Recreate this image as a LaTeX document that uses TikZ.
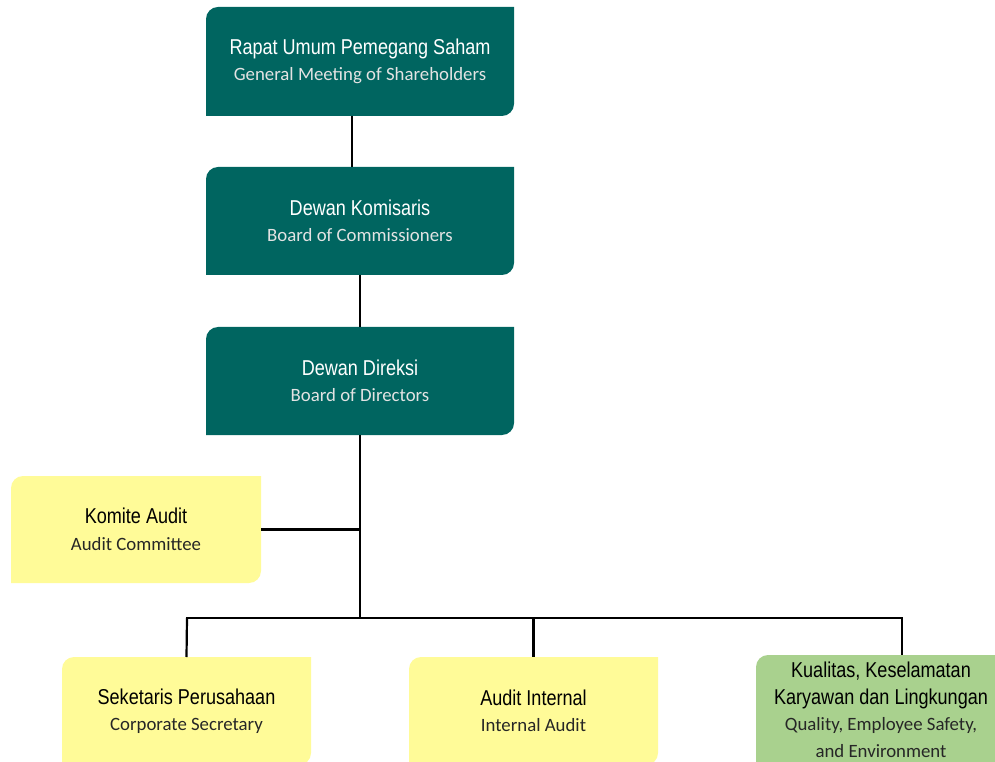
\documentclass[tikz,border=0pt]{standalone}
\usepackage{fontspec}
\usetikzlibrary{backgrounds}
\newfontfamily\mainf{Liberation Sans}[FakeStretch=0.84]
\newfontfamily\subf{Carlito}
\definecolor{teal1}{HTML}{006560}
\definecolor{yell1}{HTML}{FFFB98}
\definecolor{green1}{HTML}{A9D18E}
\definecolor{subgray}{HTML}{E3E3E3}
\definecolor{subdark}{HTML}{262626}
\newcommand\diagfill[2]{\fill[#2] (#1.south west) -- ([yshift=-12pt]#1.north west) arc[start angle=180,end angle=90,radius=12pt] -- (#1.north east) -- ([yshift=12pt]#1.south east) arc[start angle=0,end angle=-90,radius=12pt] -- cycle;}
\newcommand\mt[1]{{\mainf\fontsize{21.5}{26.5}\selectfont #1}}
\newcommand\st[1]{{\subf\fontsize{18.8}{26.5}\selectfont #1}}
\begin{document}
\begin{tikzpicture}[x=1pt,y=1pt,
  orgbox/.style={rectangle,inner sep=0pt,outer sep=0pt,align=center,minimum width=308pt,minimum height=108pt,font=\fontsize{20}{26.5}\selectfont},
  lowbox/.style={orgbox,minimum width=249pt},
  conn/.style={line width=2.2pt,black}]
\useasboundingbox (0,0) rectangle (995,761);
\node[orgbox,minimum height=109pt,text=white] (rups) at (360,699.5) {\mt{Rapat Umum Pemegang Saham}\\\st{\color{subgray}General Meeting of Shareholders}};
\node[orgbox,text=white] (dk) at (360,540) {\mt{Dewan Komisaris}\\\st{\color{subgray}Board of Commissioners}};
\node[orgbox,text=white] (dd) at (360,380) {\mt{Dewan Direksi}\\\st{\color{subgray}Board of Directors}};
\node[lowbox,minimum width=250pt,minimum height=107pt] (ka) at (136,231.5) {\mt{Komite Audit}\\\st{\color{subdark}Audit Committee}};
\node[lowbox] (sk) at (186.5,50) {\mt{Seketaris Perusahaan}\\\st{\color{subdark}Corporate Secretary}};
\node[lowbox] (ai) at (533.5,50) {\mt{Audit Internal}\\\st{\color{subdark}Internal Audit}};
\node[lowbox,minimum width=250pt,minimum height=110pt] (kk) at (881,51) {\mt{Kualitas, Keselamatan}\\\mt{Karyawan dan Lingkungan}\\\st{\color{subdark}Quality, Employee Safety,}\\\st{\color{subdark}and Environment}};
\begin{scope}[on background layer]
\diagfill{rups}{teal1}
\diagfill{dk}{teal1}
\diagfill{dd}{teal1}
\diagfill{ka}{yell1}
\diagfill{sk}{yell1}
\diagfill{ai}{yell1}
\diagfill{kk}{green1}
\end{scope}
\coordinate (j) at (360,143);
\coordinate (jl) at (187,143);
\coordinate (jr) at (902,143);
\coordinate (jm) at (533.5,143);
\draw[conn] ([xshift=-8pt]rups.south) -- ([xshift=-8pt]rups.south |- dk.north);
\draw[conn] (dk.south) -- (dd.north);
\draw[conn] (dd.south) -- (j);
\draw[conn] (ka.east) -- (ka.east -| dd.south);
\draw[conn,line cap=rect] (jl) -- (jr);
\draw[conn] (jl) -- (sk.north);
\draw[conn] (jm) -- (ai.north);
\draw[conn] (jr) -- (jr |- kk.north);
\end{tikzpicture}
\end{document}
